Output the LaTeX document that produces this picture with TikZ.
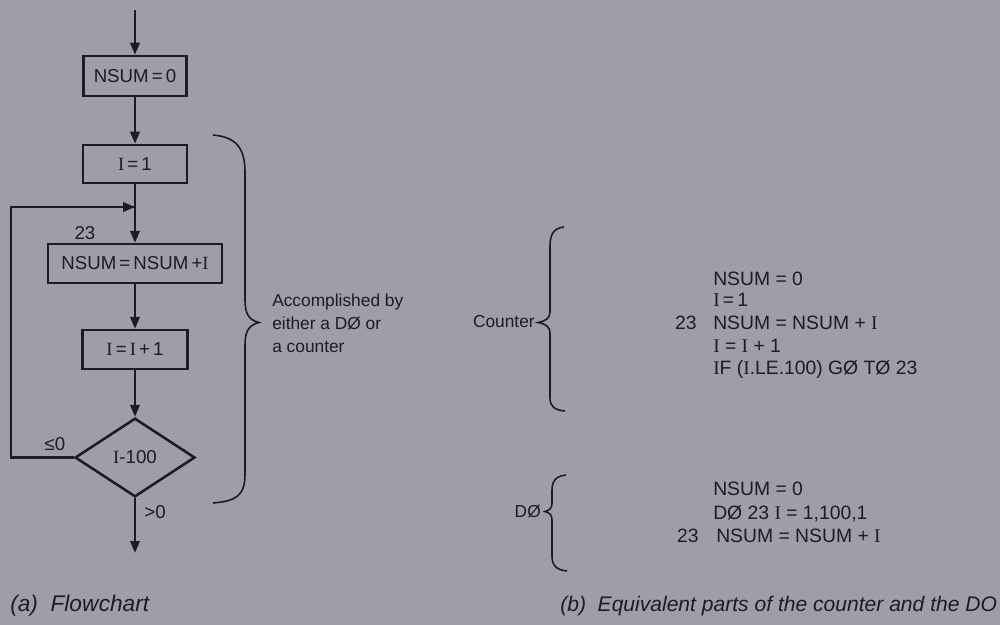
\documentclass[tikz,border=0pt]{standalone}
\usepackage{fontspec}
\setmainfont{Liberation Sans}
\newfontfamily\serifI{Liberation Serif}
\usetikzlibrary{arrows.meta,shapes.geometric}
\definecolor{paper}{RGB}{158,158,170}
\definecolor{ink}{RGB}{28,28,34}
\newcommand{\vI}{{\serifI I}}
\tikzset{
  inkline/.style={draw=ink,line width=1.9pt},
  fbox/.style={inkline,rectangle,inner sep=0pt,font=\fontsize{14}{16}\selectfont,text=ink},
  arr/.style={inkline,-{Triangle[length=9pt,width=7pt]}},
  brace/.style={draw=ink,line width=1.2pt},
  txt/.style={text=ink,font=\fontsize{13}{17.25}\selectfont,inner sep=0pt},
  code/.style={txt,font=\fontsize{14.5}{16}\selectfont,anchor=west,text height=10.5pt,text depth=3pt},
  captxt/.style={text=ink,font=\fontsize{17}{20}\selectfont\itshape,inner sep=0pt,anchor=west}
}
\begin{document}
\begin{tikzpicture}[x=0.75pt,y=-0.75pt]
\fill[paper] (0,0) rectangle (1000,625);
\useasboundingbox (0,0) rectangle (1000,625);
% flowchart
\coordinate (start) at (135,10);
\node[fbox,minimum width=77pt,minimum height=30pt] (n0) at (135,76) {NSUM\,=\,0};
\node[fbox,minimum width=78pt,minimum height=28.5pt] (i1) at (135,164) {\vI\,=\,1};
\node[fbox,minimum width=130.5pt,minimum height=29pt] (ns) at (135,263.5) {NSUM\,=\,NSUM\,+\vI};
\node[fbox,minimum width=79pt,minimum height=29pt] (inc) at (135,349.5) {\vI\,=\,\vI\,+\,1};
\node[inkline,diamond,aspect=1.52,minimum width=90pt,minimum height=59pt,inner sep=0pt,text=ink,font=\fontsize{14}{16}\selectfont] (dia) at (135,457.5) {\vI-100};
\coordinate (merge) at (135,207);
\coordinate (lb) at (11,457.5);
\coordinate (lt) at (11,207);
\coordinate (endp) at (135,553);
\draw[arr] (start) -- (n0);
\draw[arr] (n0) -- (i1);
\draw[inkline] (i1) -- (merge);
\draw[arr] (merge) -- (ns);
\draw[arr] (ns) -- (inc);
\draw[arr] (inc) -- (dia);
\draw[inkline,line join=miter] (dia.west) -- (lb) -- (lt) -- ([xshift=-1pt]merge);
\draw[arr] (lt) -- (merge);
\draw[arr] (dia.south) -- (endp);
\node[txt,font=\fontsize{14}{16}\selectfont] (l23) at (85,233) {23};
\node[txt,font=\fontsize{14}{16}\selectfont] (lle) at (55,444) {≤0};
\node[txt,font=\fontsize{14}{16}\selectfont] (lgt) at (155,512) {>0};
% big brace
\draw[brace] (213,135) .. controls (236,137) and (245,148) .. (245,172) -- (245,300)
  .. controls (245,314) and (249,320) .. (259,322.5)
  .. controls (249,325) and (245,331) .. (245,345) -- (245,474)
  .. controls (245,496) and (236,501) .. (213,503);
\node[txt,align=left,anchor=west] (acc) at (272,323) {Accomplished by\\either a DØ or\\a counter};
% counter brace
\draw[brace] (564,227) .. controls (554,228) and (550,234) .. (550,246) -- (550,312)
  .. controls (550,318) and (546,321) .. (538,322.5)
  .. controls (546,324) and (550,327) .. (550,333) -- (550,398)
  .. controls (550,407) and (555,410) .. (565,411);
\node[txt,anchor=east] (cnt) at (535,322) {Counter};
\node[code] (c1) at (713,280) {NSUM = 0};
\node[code] (c2) at (713,301) {\vI\,=\,1};
\node[code,anchor=east] (c3n) at (697,324) {23};
\node[code] (c3) at (713,324) {NSUM = NSUM + \vI};
\node[code] (c4) at (713,347) {\vI{} = \vI{} + 1};
\node[code] (c5) at (713,369) {\vI F (\vI.LE.100) GØ TØ 23};
% DO brace
\draw[brace] (566,475) .. controls (556,476) and (552,481) .. (552,490) -- (552,503)
  .. controls (552,508) and (550,510) .. (545,511.5)
  .. controls (550,513) and (552,515) .. (552,520) -- (552,556)
  .. controls (552,566) and (557,570) .. (567,571);
\node[txt,anchor=east] (dol) at (541,512) {DØ};
\node[code] (d1) at (713,490) {NSUM = 0};
\node[code] (d2) at (713,514) {DØ 23 \vI{} = 1,100,1};
\node[code,anchor=east] (d3n) at (699,537) {23};
\node[code] (d3) at (716,537) {NSUM = NSUM + \vI};
% captions
\node[captxt] (capa) at (10,606) {(a)\ \ Flow\kern0.3pt chart};
\node[captxt,font=\fontsize{15.8}{20}\selectfont\itshape] (capb) at (560,606) {(b)\ \ Equivalent parts of the counter and the DO};
\end{tikzpicture}
\end{document}
